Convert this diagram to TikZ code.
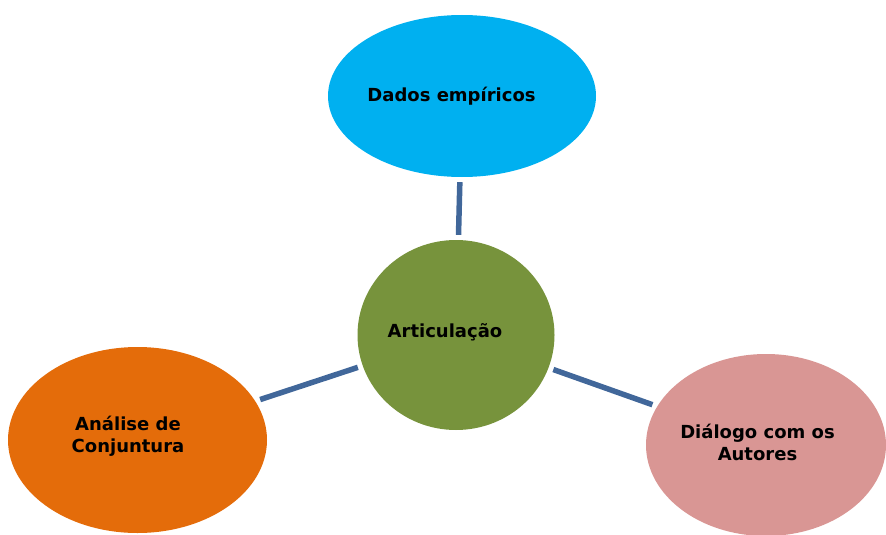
\documentclass[tikz,border=0pt]{standalone}
\usepackage{fontspec}
\setmainfont{DejaVu Sans}
\usetikzlibrary{shapes.geometric}
\definecolor{cyanfill}{HTML}{00B0F0}
\definecolor{greenfill}{HTML}{77933C}
\definecolor{orangefill}{HTML}{E46C0A}
\definecolor{pinkfill}{HTML}{D99694}
\definecolor{linkcol}{HTML}{41679A}
\tikzset{
  blob/.style={ellipse, inner sep=0pt, draw=none},
  lbl/.style={font=\bfseries\fontsize{18}{22}\selectfont, align=center, inner sep=0pt, anchor=base},
  link/.style={draw=linkcol, line width=5.5pt, shorten >=5pt, shorten <=5pt}
}
\begin{document}
\begin{tikzpicture}[x=1pt,y=-1pt]
\useasboundingbox (0,0) rectangle (886,535);
\node[blob, fill=cyanfill, minimum width=268pt, minimum height=162pt] (dados) at (462,96) {};
\node[blob, fill=greenfill, minimum width=197pt, minimum height=190pt] (artic) at (456,335) {};
\node[blob, fill=orangefill, minimum width=259pt, minimum height=186pt] (analise) at (137.5,440) {};
\node[blob, fill=pinkfill, minimum width=240pt, minimum height=182pt] (dialogo) at (766,445) {};
\draw[link] (dados) -- (artic);
\draw[link] (analise) -- (artic);
\draw[link] (dialogo) -- (artic);
\node[lbl] (tdados) at (451.5,101.5) {Dados empíricos};
\node[lbl] (tartic) at (445,337) {Articulação};
\node[lbl] (tanalise) at (128,452.5) {Análise de\\Conjuntura};
\node[lbl] (tdialogo) at (757.5,460) {Diálogo com os\\Autores};
\end{tikzpicture}
\end{document}
